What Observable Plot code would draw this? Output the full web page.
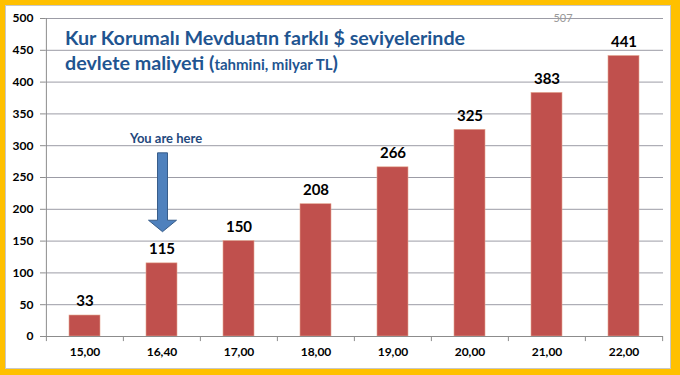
<!DOCTYPE html>
<html><head><meta charset="utf-8">
<script src="https://cdn.jsdelivr.net/npm/d3@7"></script>
<script src="https://cdn.jsdelivr.net/npm/@observablehq/plot@0.6"></script>
<style>
body{margin:0;background:#fff;}
#wrap{position:relative;width:666px;height:364px;border-style:solid;border-color:#FFC000;border-width:5px 9px 6px 5px;background:#fff;box-shadow:inset 0 0 0 1px #c8c8c8;}
#title{position:absolute;left:60px;top:20px;font-family:Lato,"Open Sans",sans-serif;font-weight:700;color:#1F5591;font-size:19.7px;line-height:25px;white-space:nowrap;}
#title .small{font-size:15px;}
</style></head><body><div id="wrap"><div id="chart"></div><div id="title"></div></div>
<script>
const rates = ["15,00","16,40","17,00","18,00","19,00","20,00","21,00","22,00"];
const costs = [33,115,150,208,266,325,383,441];
const yTicks = [0,50,100,150,200,250,300,350,400,450,500];
const title1 = "Kur Korumalı Mevduatın farklı $ seviyelerinde";
const title2a = "devlete maliyeti (";
const title2b = "tahmini, milyar TL";
const title2c = ")";
const markerRate = "16,40";
const markerLabel = "You are here";
const arrowTopValue = 288, arrowHeadBaseValue = 182, arrowTipValue = 164, markerLabelValue = 311;
const strayRate = "21,00";
const strayValue = 500;
const strayLabel = "507";

const data = rates.map((r, i) => ({rate: r, cost: costs[i]}));

const W = 666, H = 364, mL = 40, mR = 8, mT = 13, mB = 33;
const step = (W - mL - mR) / rates.length;
const font = "Lato, 'Open Sans', sans-serif";

function arrowMark(index, scales) {
  const x = scales.x;
  const bw = typeof x.bandwidth === "function" ? x.bandwidth() : (x.bandwidth || 0);
  const cx = x(markerRate) + bw / 2 + 1;
  const y = scales.y;
  const yTop = y(arrowTopValue), yBase = y(arrowHeadBaseValue), yTip = y(arrowTipValue);
  const sw = 5, hw = 14;
  const p = d3.path();
  p.moveTo(cx - sw, yTop); p.lineTo(cx + sw, yTop); p.lineTo(cx + sw, yBase);
  p.lineTo(cx + hw, yBase); p.lineTo(cx, yTip); p.lineTo(cx - hw, yBase);
  p.lineTo(cx - sw, yBase); p.closePath();
  const path = document.createElementNS("http://www.w3.org/2000/svg", "path");
  path.setAttribute("d", p.toString());
  path.setAttribute("fill", "#4F81BD");
  path.setAttribute("stroke", "#385D8A");
  path.setAttribute("stroke-width", "1");
  return path;
}

const chart = Plot.plot({
  width: W, height: H,
  marginLeft: mL, marginRight: mR, marginTop: mT, marginBottom: mB,
  style: {background: "transparent", fontFamily: font},
  x: {domain: rates, paddingInner: 0.6, paddingOuter: 0.3},
  y: {domain: [0, 500]},
  marks: [
    Plot.ruleY(yTicks.filter(d => d > 0), {stroke: "#9C9CA6", strokeWidth: 1}),
    Plot.barY(data, {x: "rate", y: "cost", fill: "#C0504D", stroke: "#E3A58F", strokeWidth: 0.6}),
    Plot.ruleY([0], {stroke: "#8C8C8C"}),
    Plot.ruleX([rates[0]], {x: d => d, dx: -step / 2, y1: 0, y2: 500, stroke: "#8C8C8C"}),
    Plot.ruleX(rates, {x: d => d, dx: -step / 2, y1: 0, y2: -8, stroke: "#8C8C8C"}),
    Plot.ruleX([rates[rates.length - 1]], {x: d => d, dx: step / 2, y1: 0, y2: -8, stroke: "#8C8C8C"}),
    Plot.axisY({ticks: yTicks, tickSize: 5, tickPadding: 7, stroke: "#8C8C8C", fontSize: 12, fontWeight: "bold", fill: "#000", label: null}),
    Plot.axisX({tickSize: 0, tickPadding: 11, fontSize: 12, fontWeight: "bold", fill: "#000", label: null}),
    Plot.text(data, {x: "rate", y: "cost", text: d => String(d.cost), dy: -14, fontSize: 15, fontWeight: "bold", fill: "#000"}),
    Plot.text([strayLabel], {x: () => strayRate, y: () => strayValue, text: d => d, dx: 16, fontSize: 11, fill: "#9A9A9A"}),
    Plot.text([markerLabel], {x: () => markerRate, y: () => markerLabelValue, text: d => d, dx: 4, fontSize: 13, fontWeight: "bold", fill: "#1F497D"}),
    arrowMark
  ]
});
document.getElementById("chart").appendChild(chart);

const t = document.getElementById("title");
const l1 = document.createElement("div"); l1.textContent = title1; t.appendChild(l1);
const l2 = document.createElement("div");
l2.appendChild(document.createTextNode(title2a));
const s = document.createElement("span"); s.className = "small"; s.textContent = title2b; l2.appendChild(s);
l2.appendChild(document.createTextNode(title2c));
t.appendChild(l2);
</script>
</body></html>
